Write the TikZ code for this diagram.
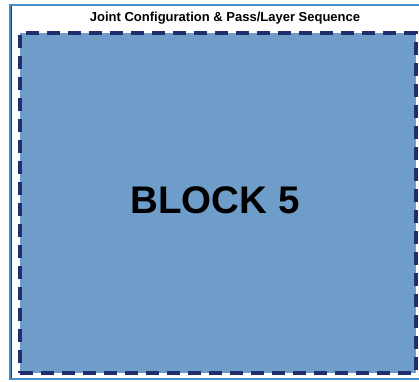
\documentclass[tikz,border=0pt]{standalone}
\usepackage{fontspec}
\setmainfont{Liberation Sans}
\usetikzlibrary{positioning}
\definecolor{blockfill}{HTML}{6F9DC9}
\definecolor{blockedge}{HTML}{202F6C}
\definecolor{frameline}{HTML}{4A8FC6}

\begin{document}
\begin{tikzpicture}[x=1pt,y=-1pt,
 block/.style={draw=blockedge,fill=blockfill,dash pattern=on 13pt off 8pt,line width=3.4pt,
  minimum width=396pt,minimum height=340pt,inner sep=0pt,font=\fontsize{38.5}{40}\selectfont\bfseries},
 heading/.style={font=\fontsize{13}{14}\selectfont\bfseries,inner sep=0pt}]
\useasboundingbox (0,0) rectangle (419,381);
\draw[frameline,line width=1.4pt] (419,5) -- (10,5) -- (10,379) -- (419,379);
\draw[blockedge,line width=0.8pt] (11.6,5.7) -- (11.6,378.3);
\node[block] (b5) at (218,203) {};
\node[font=\fontsize{38.5}{40}\selectfont\bfseries] (label) at (215,200) {BLOCK 5};
\node[heading] (title) at (225,18) {Joint Configuration \& Pass/Layer Sequence};
\end{tikzpicture}
\end{document}
